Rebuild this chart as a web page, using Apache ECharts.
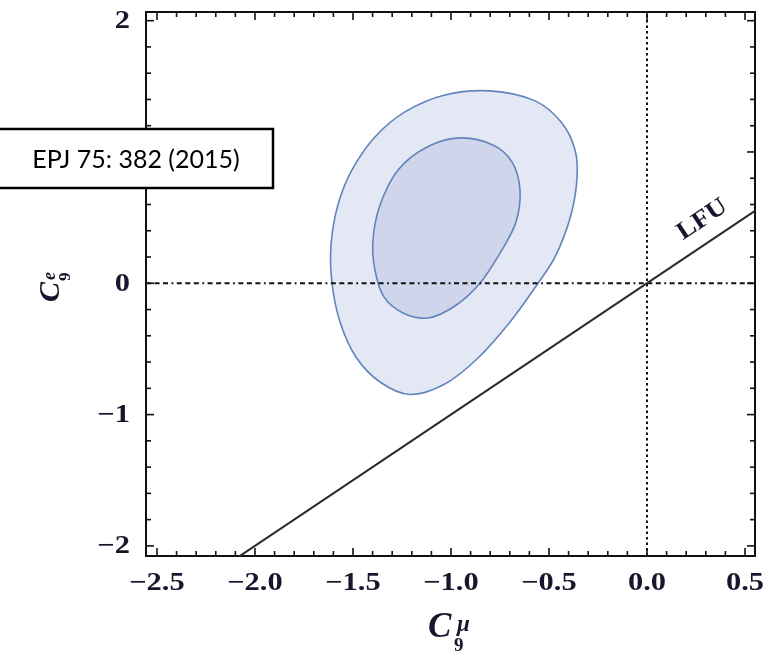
<!DOCTYPE html>
<html>
<head>
<meta charset="utf-8">
<script src="https://cdn.jsdelivr.net/npm/echarts@6/dist/echarts.min.js"></script>
<style>
  html, body { margin: 0; padding: 0; background: #fff; }
  #chart { width: 770px; height: 656px; }
</style>
</head>
<body>
<div id="chart"></div>
<script>
// Axis ranges (C9^mu horizontally, C9^e vertically)
const X_MIN = -2.556, X_MAX = 0.551;
const Y_MIN = -2.077, Y_MAX = 2.066;

// Tick labels
const xTickLabels = [-2.5, -2.0, -1.5, -1.0, -0.5, 0.0, 0.5];
const yTickLabels = [-2, -1, 0, 1, 2];

// Outer (2 sigma) contour, [C9mu, C9e], clockwise from the top
const outerX = [-0.801, -0.571, -0.434, -0.367, -0.357, -0.388, -0.464, -0.556, -0.699, -0.862,
                -1.031, -1.209, -1.362, -1.485, -1.566, -1.607, -1.612, -1.577, -1.505, -1.388,
                -1.235, -1.031];
const outerY = [ 1.465,  1.389,  1.221,  1.015,  0.802,  0.520,  0.216,  0.000, -0.295, -0.569,
                -0.767, -0.847, -0.752, -0.561, -0.295,  0.000,  0.292,  0.596,  0.863,  1.114,
                 1.305,  1.434];

// Inner (1 sigma) contour
const innerX = [-0.954, -0.786, -0.689, -0.648, -0.668, -0.740, -0.852, -0.980, -1.117, -1.245,
                -1.342, -1.388, -1.398, -1.362, -1.270, -1.122];
const innerY = [ 1.107,  1.053,  0.924,  0.711,  0.468,  0.254,  0.000, -0.173, -0.264, -0.226,
                -0.104,  0.101,  0.330,  0.596,  0.863,  1.038];

// Lepton-flavour-universality line C9e = C9mu
const lfuX = [-2.08, 0.551];
const lfuY = [-2.08, 0.551];
const lfuLabelAt = 0.345;

// Reference lines through the origin
const zeroH = [[X_MIN, 0], [X_MAX, 0]];
const zeroV = [[0, Y_MIN], [0, Y_MAX]];

// Frame ticks: minor every 0.1 on x, every 0.2 on y
const xTicks = [];
for (let i = -25; i <= 5; i++) xTicks.push(i / 10);
const yTicks = [];
for (let i = -10; i <= 10; i++) yTicks.push(i / 5);

const INK = '#16162c';
const LABEL_FONT = 'bold 25px "Liberation Serif", "Times New Roman", serif';

function fmtX(v) {
  const s = Math.abs(v).toFixed(1);
  return v < 0 ? '\u2212' + s : s;
}
function fmtY(v) {
  return v < 0 ? '\u2212' + Math.abs(v) : String(v);
}

// Closed Catmull-Rom curve through pixel points, as SVG path data
function closedCurve(pts) {
  const n = pts.length;
  let d = 'M' + pts[0][0] + ' ' + pts[0][1];
  for (let i = 0; i < n; i++) {
    const p0 = pts[(i - 1 + n) % n], p1 = pts[i], p2 = pts[(i + 1) % n], p3 = pts[(i + 2) % n];
    const c1x = p1[0] + (p2[0] - p0[0]) / 6, c1y = p1[1] + (p2[1] - p0[1]) / 6;
    const c2x = p2[0] - (p3[0] - p1[0]) / 6, c2y = p2[1] - (p3[1] - p1[1]) / 6;
    d += ' C' + c1x + ' ' + c1y + ' ' + c2x + ' ' + c2y + ' ' + p2[0] + ' ' + p2[1];
  }
  return d + ' Z';
}

function contourSeries(xs, ys, fill) {
  return {
    type: 'custom',
    silent: true,
    z: 2,
    data: xs.map((x, i) => [x, ys[i]]),
    renderItem: function (params, api) {
      if (params.dataIndex !== 0) return null;
      const pts = xs.map((x, i) => api.coord([x, ys[i]]));
      return {
        type: 'path',
        shape: { pathData: closedCurve(pts) },
        style: { fill: fill, stroke: '#6284bd', lineWidth: 1.6 }
      };
    }
  };
}

const chart = echarts.init(document.getElementById('chart'), null, { renderer: 'canvas' });

chart.setOption({
  animation: false,
  backgroundColor: '#fff',
  grid: {
    left: 146, top: 12, width: 609, height: 544,
    show: true, borderColor: '#111', borderWidth: 2, backgroundColor: 'transparent'
  },
  xAxis: {
    type: 'value', min: X_MIN, max: X_MAX,
    axisLine: { show: false }, axisTick: { show: false },
    axisLabel: { show: false }, splitLine: { show: false }
  },
  yAxis: {
    type: 'value', min: Y_MIN, max: Y_MAX,
    axisLine: { show: false }, axisTick: { show: false },
    axisLabel: { show: false }, splitLine: { show: false }
  },
  series: [
    contourSeries(outerX, outerY, '#e4e7f4'),
    contourSeries(innerX, innerY, '#cfd5ea'),
    {
      type: 'line', silent: true, z: 3, symbol: 'none',
      data: zeroH,
      lineStyle: { color: '#111', width: 2, type: [5, 3.5, 5, 3.5, 5, 3.5, 1.8, 3.5] }
    },
    {
      type: 'line', silent: true, z: 3, symbol: 'none',
      data: zeroV,
      lineStyle: { color: '#111', width: 2, type: [2.5, 3] }
    },
    {
      type: 'line', silent: true, z: 4, symbol: 'none', clip: true,
      data: lfuX.map((x, i) => [x, lfuY[i]]),
      lineStyle: { color: '#2a2a2a', width: 2 }
    },
    // LFU label along the line
    {
      type: 'custom', silent: true, z: 5,
      data: [[lfuLabelAt, lfuLabelAt]],
      renderItem: function (params, api) {
        const a = api.coord([lfuX[0], lfuY[0]]);
        const b = api.coord([lfuX[1], lfuY[1]]);
        const ang = Math.atan2(a[1] - b[1], b[0] - a[0]);
        const p = api.coord([api.value(0), api.value(1)]);
        const off = 22;
        return {
          type: 'text',
          x: p[0] - Math.sin(ang) * off,
          y: p[1] - Math.cos(ang) * off,
          rotation: ang,
          scaleX: 1.1,
          style: {
            text: 'LFU', fill: INK,
            font: 'bold 25px "Liberation Serif", serif',
            align: 'center', verticalAlign: 'middle'
          }
        };
      }
    },
    // x ticks on bottom and top edges
    {
      type: 'custom', silent: true, z: 6,
      data: xTicks.map(v => [v, 0]),
      renderItem: function (params, api) {
        const v = api.value(0);
        const major = Math.abs(v * 2 - Math.round(v * 2)) < 1e-6;
        const len = major ? 8 : 5;
        const b = api.coord([v, Y_MIN]);
        const t = api.coord([v, Y_MAX]);
        const st = { stroke: '#111', lineWidth: 1.6 };
        return {
          type: 'group',
          children: [
            { type: 'line', shape: { x1: b[0], y1: b[1], x2: b[0], y2: b[1] - len }, style: st },
            { type: 'line', shape: { x1: t[0], y1: t[1], x2: t[0], y2: t[1] + len }, style: st }
          ]
        };
      }
    },
    // y ticks on left and right edges
    {
      type: 'custom', silent: true, z: 6,
      data: yTicks.map(v => [0, v]),
      renderItem: function (params, api) {
        const v = api.value(1);
        const major = Math.abs(v - Math.round(v)) < 1e-6;
        const len = major ? 8 : 5;
        const l = api.coord([X_MIN, v]);
        const r = api.coord([X_MAX, v]);
        const st = { stroke: '#111', lineWidth: 1.6 };
        return {
          type: 'group',
          children: [
            { type: 'line', shape: { x1: l[0], y1: l[1], x2: l[0] + len, y2: l[1] }, style: st },
            { type: 'line', shape: { x1: r[0], y1: r[1], x2: r[0] - len, y2: r[1] }, style: st }
          ]
        };
      }
    },
    // x tick labels
    {
      type: 'custom', silent: true, z: 6,
      data: xTickLabels.map(v => [v, 0]),
      renderItem: function (params, api) {
        const v = api.value(0);
        const p = api.coord([v, Y_MIN]);
        return {
          type: 'text', x: p[0], y: p[1] + 28, scaleX: 1.22,
          style: { text: fmtX(v), fill: INK, font: LABEL_FONT, align: 'center', verticalAlign: 'middle' }
        };
      }
    },
    // y tick labels
    {
      type: 'custom', silent: true, z: 6,
      data: yTickLabels.map(v => [0, v]),
      renderItem: function (params, api) {
        const v = api.value(1);
        const p = api.coord([X_MIN, v]);
        return {
          type: 'text', x: p[0] - 16, y: p[1] + 1, scaleX: 1.22,
          style: { text: fmtY(v), fill: INK, font: LABEL_FONT, align: 'right', verticalAlign: 'middle' }
        };
      }
    }
  ],
  graphic: [
    // horizontal axis title C9^mu
    {
      type: 'group', left: 428, top: 610, z: 20,
      children: [
        { type: 'text', x: 0, y: 35, style: { text: 'C', fill: INK, font: 'italic bold 35px "Liberation Serif", serif', verticalAlign: 'bottom' } },
        { type: 'text', x: 26, y: 46, style: { text: '9', fill: INK, font: 'bold 19px "Liberation Serif", serif', verticalAlign: 'bottom' } },
        { type: 'text', x: 29, y: 15, style: { text: '\u03bc', fill: INK, font: 'italic bold 23px "Liberation Serif", serif', verticalAlign: 'middle' } }
      ]
    },
    // vertical axis title C9^e, rotated
    {
      type: 'group', x: 66, y: 302, rotation: Math.PI / 2, z: 20,
      children: [
        { type: 'text', x: 0, y: 0, style: { text: 'C', fill: INK, font: 'italic bold 30px "Liberation Serif", serif', verticalAlign: 'bottom' } },
        { type: 'text', x: 21, y: 8, style: { text: '9', fill: INK, font: 'bold 17px "Liberation Serif", serif', verticalAlign: 'bottom' } },
        { type: 'text', x: 22, y: -16, style: { text: 'e', fill: INK, font: 'italic bold 18px "Liberation Serif", serif', verticalAlign: 'middle' } }
      ]
    },
    // reference box
    {
      type: 'rect', z: 30,
      shape: { x: -2, y: 129, width: 275, height: 59 },
      style: { fill: '#fff', stroke: '#000', lineWidth: 2.5 }
    },
    {
      type: 'text', z: 31, x: 136, y: 160,
      style: { text: 'EPJ 75: 382 (2015)', fill: '#000', font: '25px Lato, "Open Sans", sans-serif', align: 'center', verticalAlign: 'middle' }
    }
  ]
});
</script>
</body>
</html>
